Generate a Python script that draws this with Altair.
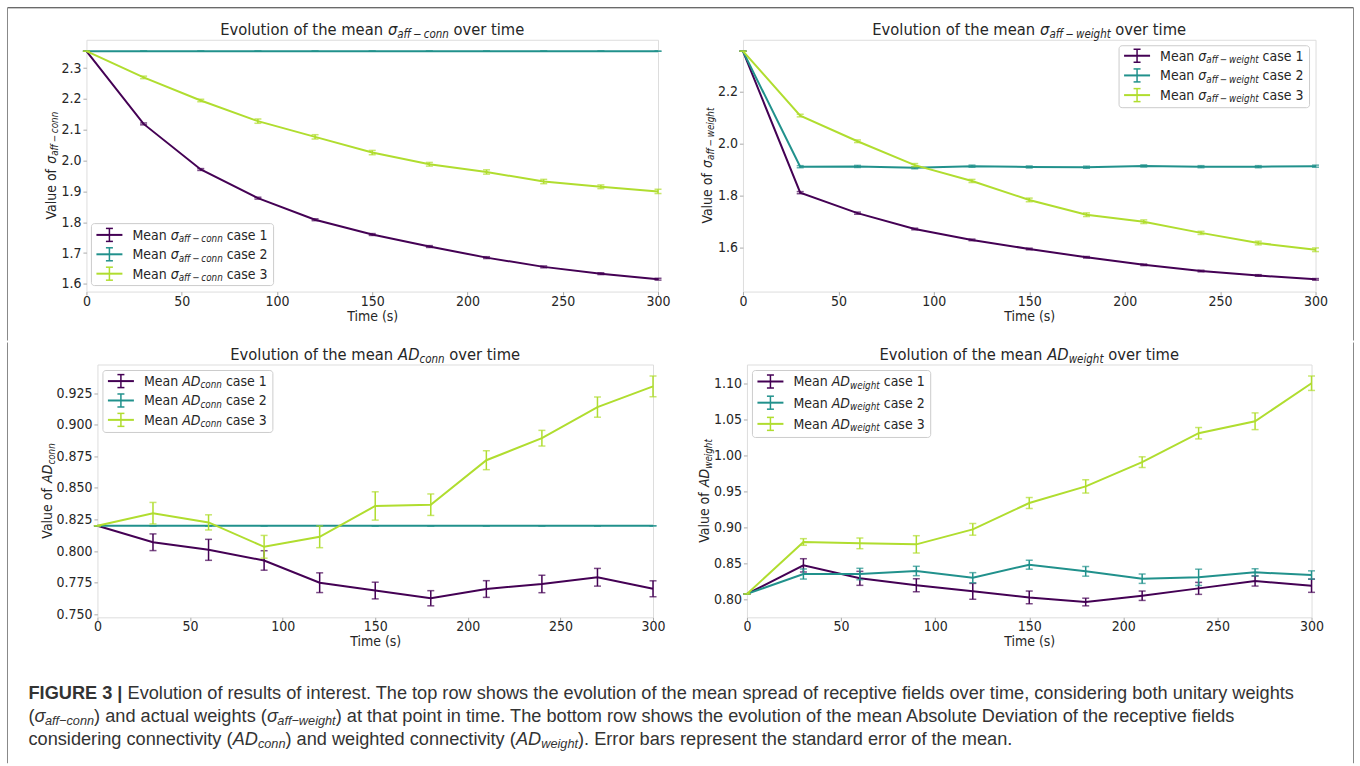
import altair as alt
import pandas as pd

# ---------------------------------------------------------------- data
TIME = [0, 30, 60, 90, 120, 150, 180, 210, 240, 270, 300]
CASES = ["case 1", "case 2", "case 3"]
CASE_COLORS = ["#440154", "#21918c", "#b0dd2f"]

# mean sigma_aff-conn
SC_MEAN_1 = [2.355, 2.119, 1.971, 1.878, 1.808, 1.760, 1.721, 1.685, 1.655, 1.633, 1.615]
SC_ERR_1 = [0.0, 0.003, 0.003, 0.003, 0.003, 0.003, 0.003, 0.003, 0.003, 0.003, 0.003]
SC_MEAN_2 = [2.355, 2.355, 2.355, 2.355, 2.355, 2.355, 2.355, 2.355, 2.355, 2.355, 2.355]
SC_ERR_2 = [0.0, 0.0, 0.0, 0.0, 0.0, 0.0, 0.0, 0.0, 0.0, 0.0, 0.0]
SC_MEAN_3 = [2.355, 2.270, 2.195, 2.128, 2.077, 2.026, 1.988, 1.963, 1.932, 1.915, 1.900]
SC_ERR_3 = [0.0, 0.004, 0.004, 0.007, 0.007, 0.007, 0.006, 0.007, 0.007, 0.006, 0.007]

# mean sigma_aff-weight
SW_MEAN_1 = [2.355, 1.810, 1.731, 1.670, 1.628, 1.593, 1.561, 1.532, 1.508, 1.491, 1.476]
SW_ERR_1 = [0.0, 0.004, 0.004, 0.003, 0.003, 0.003, 0.003, 0.003, 0.003, 0.003, 0.003]
SW_MEAN_2 = [2.355, 1.910, 1.911, 1.906, 1.912, 1.909, 1.908, 1.913, 1.910, 1.910, 1.912]
SW_ERR_2 = [0.0, 0.004, 0.004, 0.004, 0.004, 0.004, 0.004, 0.004, 0.004, 0.004, 0.004]
SW_MEAN_3 = [2.355, 2.107, 2.008, 1.916, 1.855, 1.782, 1.725, 1.698, 1.655, 1.616, 1.590]
SW_ERR_3 = [0.0, 0.005, 0.005, 0.006, 0.006, 0.007, 0.007, 0.007, 0.006, 0.007, 0.007]

# mean AD_conn
AC_MEAN_1 = [0.820, 0.807, 0.801, 0.7926, 0.775, 0.7688, 0.7627, 0.770, 0.774, 0.7793, 0.7702]
AC_ERR_1 = [0.0, 0.0066, 0.0083, 0.0077, 0.0078, 0.0066, 0.006, 0.0066, 0.0069, 0.007, 0.0063]
AC_MEAN_2 = [0.820, 0.820, 0.820, 0.820, 0.820, 0.820, 0.820, 0.820, 0.820, 0.820, 0.820]
AC_ERR_2 = [0.0, 0.0, 0.0, 0.0, 0.0, 0.0, 0.0, 0.0, 0.0, 0.0, 0.0]
AC_MEAN_3 = [0.820, 0.830, 0.8227, 0.8034, 0.8113, 0.8357, 0.8367, 0.8719, 0.8893, 0.9139, 0.9303]
AC_ERR_3 = [0.0, 0.0085, 0.006, 0.009, 0.0086, 0.0112, 0.0085, 0.0075, 0.0062, 0.008, 0.0082]

# mean AD_weight
AW_MEAN_1 = [0.808, 0.8476, 0.8296, 0.820, 0.8116, 0.8032, 0.7968, 0.8055, 0.8157, 0.8259, 0.8194]
AW_ERR_1 = [0.0, 0.0092, 0.0097, 0.009, 0.011, 0.0088, 0.0053, 0.0065, 0.0083, 0.007, 0.0092]
AW_MEAN_2 = [0.808, 0.8356, 0.8356, 0.8398, 0.8305, 0.8485, 0.8393, 0.8291, 0.831, 0.8379, 0.8342]
AW_ERR_2 = [0.0, 0.007, 0.0079, 0.0065, 0.007, 0.0062, 0.0067, 0.0065, 0.0113, 0.005, 0.0058]
AW_MEAN_3 = [0.808, 0.880, 0.8781, 0.8767, 0.8975, 0.934, 0.957, 0.9906, 1.0307, 1.0473, 1.100]
AW_ERR_3 = [0.0, 0.0046, 0.0074, 0.012, 0.0081, 0.0076, 0.0092, 0.0074, 0.0079, 0.0116, 0.010]

X_TICKS = [0, 50, 100, 150, 200, 250, 300]
SC_TICKS = [1.6, 1.7, 1.8, 1.9, 2.0, 2.1, 2.2, 2.3]
SW_TICKS = [1.6, 1.8, 2.0, 2.2]
AC_TICKS = [0.750, 0.775, 0.800, 0.825, 0.850, 0.875, 0.900, 0.925]
AW_TICKS = [0.80, 0.85, 0.90, 0.95, 1.00, 1.05, 1.10]

SUB_CONN = "aff\u2009\u2212\u2009conn"
SUB_WEIGHT = "aff\u2009\u2212\u2009weight"

CAPTION = [
    [("FIGURE 3 | ", "b"),
     ("Evolution of results of interest. The top row shows the evolution of the mean spread "
      "of receptive fields over time, considering both unitary weights", "n")],
    [("(", "n"), ("\u03c3", "i"), ("aff\u2212conn", "si"), (") and actual weights (", "n"),
     ("\u03c3", "i"), ("aff\u2212weight", "si"),
     (") at that point in time. The bottom row shows the evolution of the mean Absolute "
      "Deviation of the receptive fields", "n")],
    [("considering connectivity (", "n"), ("AD", "i"), ("conn", "si"),
     (") and weighted connectivity (", "n"), ("AD", "i"), ("weight", "si"),
     ("). Error bars represent the standard error of the mean.", "n")],
]

# ---------------------------------------------------------------- style
CHART_FONT = "DejaVu Sans Condensed"
CAPTION_FONT = "Liberation Sans"
CAPTION_SIZE = 18.2
TITLE_SIZE = 16.4
INK = "#262626"
SPINE = "#aaaaaa"
CONDENSE = 0.9

DEJAVU = {" ": 651, "(": 799, ")": 799, ".": 651, ",": 651, "|": 690, "\u2212": 1716,
          "\u2009": 410, "\u03c3": 1300, "A": 1401, "D": 1577, "E": 1294, "M": 1767,
          "T": 1251, "V": 1401, "a": 1255, "b": 1300, "c": 1126, "d": 1300, "e": 1260,
          "f": 721, "g": 1300, "h": 1298, "i": 569, "j": 569, "k": 1186, "l": 569,
          "m": 1995, "n": 1298, "o": 1253, "p": 1300, "q": 1300, "r": 842, "s": 1067,
          "t": 803, "u": 1298, "v": 1212, "w": 1675, "x": 1212, "y": 1212, "z": 1075}
DEJAVU.update({d: 1303 for d in "0123456789"})

ARIAL = {" ": 278, "(": 333, ")": 333, ".": 278, ",": 278, "|": 260, "\u2212": 584,
         "\u03c3": 570, "A": 667, "B": 667, "C": 722, "D": 722, "E": 667, "F": 611, "G": 778,
         "H": 722, "I": 278, "J": 500, "K": 667, "L": 556, "M": 833, "N": 722, "O": 778,
         "P": 667, "Q": 778, "R": 722, "S": 667, "T": 611, "U": 722, "V": 667, "W": 944,
         "a": 556, "b": 556, "c": 500, "d": 556, "e": 556, "f": 278, "g": 556, "h": 556,
         "i": 222, "j": 222, "k": 500, "l": 222, "m": 833, "n": 556, "o": 556, "p": 556,
         "q": 556, "r": 333, "s": 500, "t": 278, "u": 556, "v": 500, "w": 722, "x": 500,
         "y": 500, "z": 500}
ARIAL.update({d: 556 for d in "0123456789"})
ARIAL_BOLD = dict(ARIAL)
ARIAL_BOLD.update({"|": 280, "G": 778, "U": 722, "R": 722, "E": 667, "F": 611, "I": 278})


def measure_chart(txt, size, style):
    return sum(DEJAVU.get(c, 1250) for c in txt) / 2048.0 * size * CONDENSE


def measure_caption(txt, size, style):
    table = ARIAL_BOLD if style == "bold" else ARIAL
    return sum(table.get(c, 556) for c in txt) / 1000.0 * size


def compose(pieces, fs, measure, sub_scale=0.7, drop_scale=0.17):
    """Lay out a run of plain / italic / subscript pieces along one baseline."""
    items, pos = [], 0.0
    for txt, kind in pieces:
        sub = kind.startswith("s")
        size = fs * sub_scale if sub else fs
        style = "bold" if kind == "b" else ("italic" if kind.endswith("i") else "normal")
        core = txt.strip(" ")
        lead = len(txt) - len(txt.lstrip(" "))
        if core:
            items.append({"txt": core, "style": style, "fs": size,
                          "adv": pos + measure(" " * lead, size, style),
                          "drop": fs * drop_scale if sub else 0.0})
        pos += measure(txt, size, style)
    return items, pos


def place_h(items, x0, y):
    return [{"txt": it["txt"], "style": it["style"], "fs": it["fs"],
             "px": x0 + it["adv"], "py": y + it["drop"], "ang": 0} for it in items]


def place_v(items, x, y0):
    return [{"txt": it["txt"], "style": it["style"], "fs": it["fs"],
             "px": x + it["drop"], "py": y0 - it["adv"], "ang": 270} for it in items]


def text_layers(rows, font, color):
    df = pd.DataFrame(rows)
    layers = []
    for style in ("normal", "italic", "bold"):
        part = df[df["style"] == style].reset_index(drop=True)
        if part.empty:
            continue
        layers.append(
            alt.Chart(part).mark_text(
                align="left", baseline="alphabetic", font=font, color=color,
                fontStyle="italic" if style == "italic" else "normal",
                fontWeight="bold" if style == "bold" else "normal",
            ).encode(
                x=alt.X("px:Q", scale=None, axis=None),
                y=alt.Y("py:Q", scale=None, axis=None),
                text="txt:N",
                size=alt.Size("fs:Q", scale=None, legend=None),
                angle=alt.Angle("ang:Q", scale=None, legend=None),
            )
        )
    return layers


def rule_layer(rows):
    return alt.Chart(pd.DataFrame(rows)).mark_rule(strokeCap="butt").encode(
        x=alt.X("x:Q", scale=None, axis=None), x2="x2:Q",
        y=alt.Y("y:Q", scale=None, axis=None), y2="y2:Q",
        color=alt.Color("col:N", scale=None, legend=None),
        size=alt.Size("sw:Q", scale=None, legend=None),
    )


def axis(values, fmt, title):
    kw = dict(values=values, format=fmt, grid=False, domain=False, tickColor=SPINE,
              tickSize=3.5, tickWidth=1, labelFont=CHART_FONT, labelFontSize=14,
              labelColor=INK, labelFlush=False, labelOverlap=False)
    if title:
        return alt.Axis(title=title, titleFont=CHART_FONT, titleFontSize=14,
                        titleFontWeight="normal", titleColor=INK, titlePadding=1,
                        labelPadding=-1, **kw)
    return alt.Axis(title=None, labelPadding=2, **kw)


def panel(means, errs, width, height, yticks, yfmt, title, ylabel, ylabel_off,
          legend_label, legend_loc, row0, row_step, box_h, frame=(), caption_rows=()):
    frames = []
    for m, e in zip(means, errs):
        frames.append(pd.DataFrame({
            "t": TIME, "m": m,
            "lo": [a - b for a, b in zip(m, e)],
            "hi": [a + b for a, b in zip(m, e)],
        }))
    lo = min(f["lo"].min() for f in frames)
    hi = max(f["hi"].max() for f in frames)
    pad = 0.05 * (hi - lo)
    xs = alt.Scale(domain=[0, 300], nice=False, zero=False)
    ys = alt.Scale(domain=[lo - pad, hi + pad], nice=False, zero=False)
    xa = axis(X_TICKS, "d", "Time (s)")
    ya = axis(yticks, yfmt, None)

    layers = []
    for f, col in zip(frames, CASE_COLORS):
        ex = alt.X("t:Q", scale=xs, axis=xa)
        layers.append(alt.Chart(f).mark_line(strokeWidth=2, color=col).encode(
            x=ex, y=alt.Y("m:Q", scale=ys, axis=ya)))
        layers.append(alt.Chart(f).mark_rule(strokeWidth=1.5, color=col).encode(
            x=ex, y=alt.Y("lo:Q", scale=ys, axis=ya), y2="hi:Q"))
        for fld in ("lo", "hi"):
            layers.append(alt.Chart(f).mark_tick(
                orient="horizontal", size=7, thickness=1.5, color=col).encode(
                x=ex, y=alt.Y(fld + ":Q", scale=ys, axis=ya)))

    # legend box
    labels = [compose(legend_label(k + 1), 14, measure_chart) for k in range(3)]
    box_w = 47 + max(w for _, w in labels)
    if legend_loc == "lower left":
        x0, y0 = 5.0, height - 6.0 - box_h
    elif legend_loc == "upper right":
        x0, y0 = width - 6.0 - box_w, 6.0
    else:
        x0, y0 = 5.5, 6.0
    layers.append(
        alt.Chart(alt.InlineData(values=[{"b": 0}])).mark_rect(
            fill="white", fillOpacity=0.8, stroke="#cccccc", strokeWidth=1, cornerRadius=3
        ).encode(x=alt.value(x0), x2=alt.value(x0 + box_w),
                 y=alt.value(y0), y2=alt.value(y0 + box_h))
    )
    rules, texts = list(frame), []
    for k, (items, _) in enumerate(labels):
        cy = y0 + row0 + k * row_step
        col = CASE_COLORS[k]
        rules += [
            {"x": x0 + 5, "x2": x0 + 31, "y": cy, "y2": cy, "col": col, "sw": 2},
            {"x": x0 + 18, "x2": x0 + 18, "y": cy - 6.5, "y2": cy + 6.5, "col": col, "sw": 1.5},
            {"x": x0 + 14.5, "x2": x0 + 21.5, "y": cy - 6.5, "y2": cy - 6.5, "col": col, "sw": 1.5},
            {"x": x0 + 14.5, "x2": x0 + 21.5, "y": cy + 6.5, "y2": cy + 6.5, "col": col, "sw": 1.5},
        ]
        texts += place_h(items, x0 + 41, cy + 5)
    layers.append(rule_layer(rules))

    # title and rotated y label, both built from mixed-style pieces
    t_items, t_w = compose(title, TITLE_SIZE, measure_chart)
    texts += place_h(t_items, width / 2 - t_w / 2, -4.5)
    y_items, y_w = compose(ylabel, 14, measure_chart)
    texts += place_v(y_items, -ylabel_off, height / 2 + y_w / 2)
    layers += text_layers(texts, CHART_FONT, INK)
    if caption_rows:
        layers += text_layers(list(caption_rows), CAPTION_FONT, "#333333")

    return alt.layer(*layers).properties(width=width, height=height)


def gap(w, h):
    return alt.Chart(alt.InlineData(values=[{"g": 0}])).mark_point(opacity=0).encode(
        x=alt.value(0), y=alt.value(0)
    ).properties(width=w, height=h, view=alt.ViewBackground(stroke="transparent"))


# page frame: top edge plus side edges, split between the two rows so that
# both rows share the same outer left edge
FRAME_TOP = [
    {"x": -79, "x2": 1268, "y": -32, "y2": -32, "col": "#333333", "sw": 1},
    {"x": -79, "x2": -79, "y": -32, "y2": 301, "col": "#888888", "sw": 1},
    {"x": 1268, "x2": 1268, "y": -32, "y2": 301, "col": "#888888", "sw": 1},
]
FRAME_BOTTOM = [
    {"x": -90, "x2": -90, "y": -22, "y2": 399, "col": "#888888", "sw": 1},
    {"x": 1257, "x2": 1257, "y": -22, "y2": 399, "col": "#888888", "sw": 1},
]

# caption lines, in the coordinates of the lower-left panel
cap_rows = []
for i, line in enumerate(CAPTION):
    items, _ = compose(line, CAPTION_SIZE, measure_caption, sub_scale=0.7, drop_scale=0.2)
    cap_rows += place_h(items, -69, 334.5 + 23 * i)

p1 = panel([SC_MEAN_1, SC_MEAN_2, SC_MEAN_3], [SC_ERR_1, SC_ERR_2, SC_ERR_3],
           572, 252, SC_TICKS, ".1f",
           [("Evolution of the mean ", "n"), ("\u03c3", "i"), (SUB_CONN, "si"), (" over time", "n")],
           [("Value of ", "n"), ("\u03c3", "i"), (SUB_CONN, "si")], 30.5,
           lambda k: [("Mean ", "n"), ("\u03c3", "i"), (SUB_CONN, "si"), (" case %d" % k, "n")],
           "lower left", 11.3, 19.4, 62, frame=FRAME_TOP)
p2 = panel([SW_MEAN_1, SW_MEAN_2, SW_MEAN_3], [SW_ERR_1, SW_ERR_2, SW_ERR_3],
           573, 252, SW_TICKS, ".1f",
           [("Evolution of the mean ", "n"), ("\u03c3", "i"), (SUB_WEIGHT, "si"), (" over time", "n")],
           [("Value of ", "n"), ("\u03c3", "i"), (SUB_WEIGHT, "si")], 31,
           lambda k: [("Mean ", "n"), ("\u03c3", "i"), (SUB_WEIGHT, "si"), (" case %d" % k, "n")],
           "upper right", 10.0, 19.7, 62)
p3 = panel([AC_MEAN_1, AC_MEAN_2, AC_MEAN_3], [AC_ERR_1, AC_ERR_2, AC_ERR_3],
           556, 253, AC_TICKS, ".3f",
           [("Evolution of the mean ", "n"), ("AD", "i"), ("conn", "si"), (" over time", "n")],
           [("Value of ", "n"), ("AD", "i"), ("conn", "si")], 45,
           lambda k: [("Mean ", "n"), ("AD", "i"), ("conn", "si"), (" case %d" % k, "n")],
           "upper left", 10.6, 19.4, 62, frame=FRAME_BOTTOM, caption_rows=cap_rows)
p4 = panel([AW_MEAN_1, AW_MEAN_2, AW_MEAN_3], [AW_ERR_1, AW_ERR_2, AW_ERR_3],
           565, 253, AW_TICKS, ".2f",
           [("Evolution of the mean ", "n"), ("AD", "i"), ("weight", "si"), (" over time", "n")],
           [("Value of ", "n"), ("AD", "i"), ("weight", "si")], 37.5,
           lambda k: [("Mean ", "n"), ("AD", "i"), ("weight", "si"), (" case %d" % k, "n")],
           "upper left", 11.0, 21.2, 67)

row1 = alt.hconcat(p1, gap(85, 252), p2, spacing=0, bounds="flush")
row2 = alt.hconcat(gap(11, 253), p3, gap(94, 253), p4, spacing=0, bounds="flush")

chart = alt.vconcat(row1, row2, spacing=0).properties(
    padding={"left": 6.5, "top": 6.5, "right": 5.5, "bottom": 0},
    autosize=alt.AutoSizeParams(type="pad"),
).configure_view(stroke=SPINE, strokeWidth=1).configure(background="white")

chart.save("out.html", embed_options={"renderer": "svg", "actions": False})
